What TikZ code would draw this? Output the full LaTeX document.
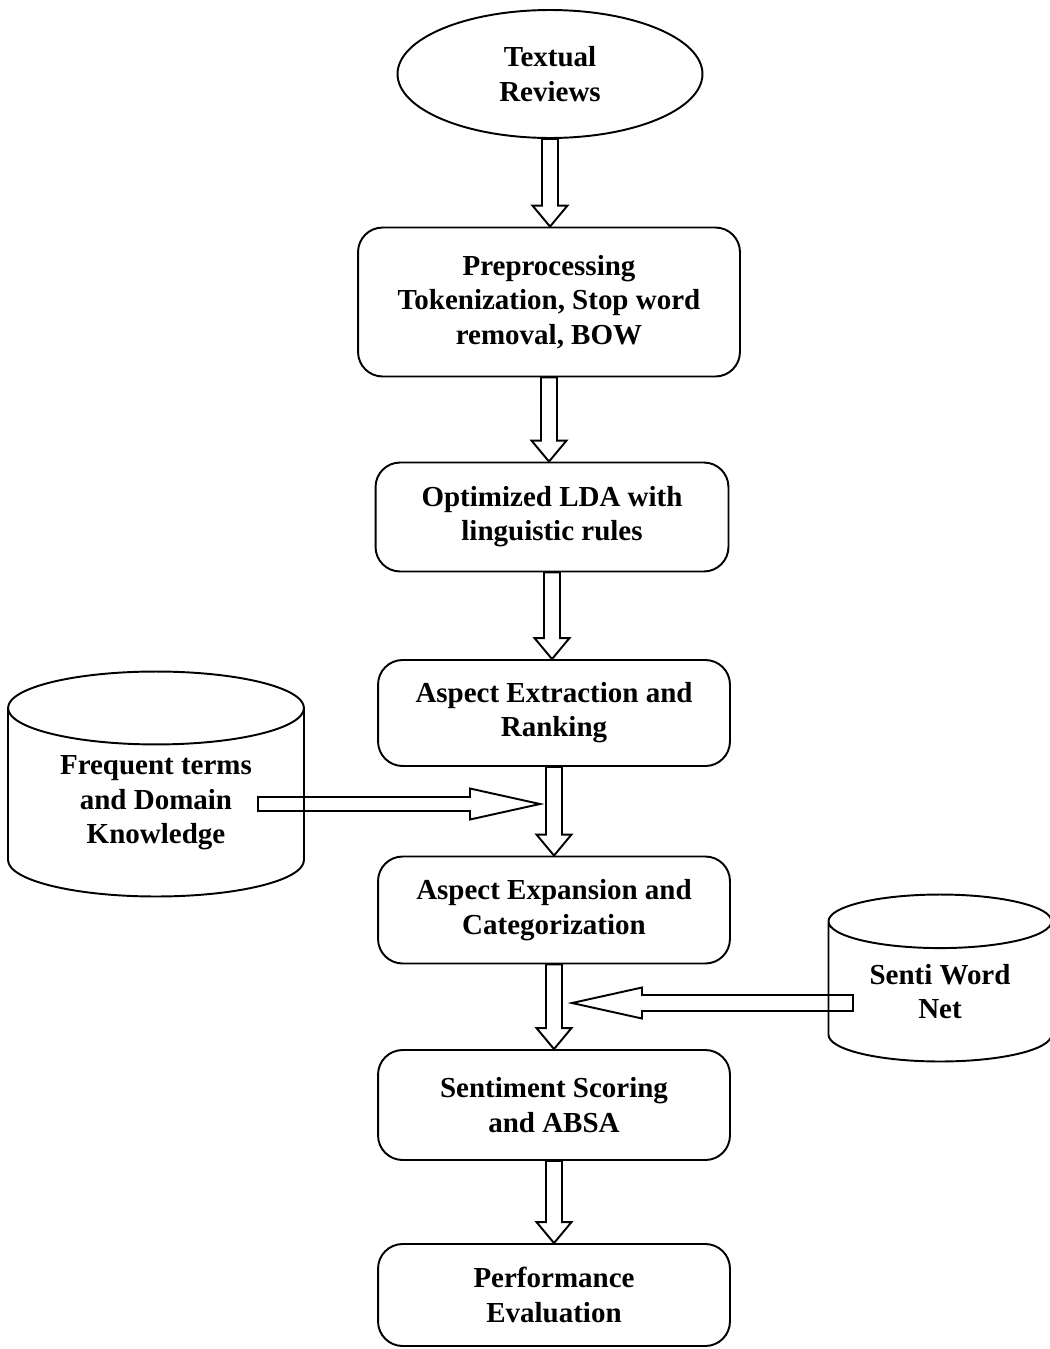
\documentclass[tikz,border=0pt]{standalone}
\usepackage{fontspec}
\setmainfont{Liberation Serif}
\usetikzlibrary{shapes.geometric,calc}

\tikzset{
  txt/.style={align=center,font=\bfseries\fontsize{16.5}{19.5}\selectfont},
  box/.style={txt,draw,line width=1.1pt,rounded corners=14pt,inner sep=0pt},
  store/.style={txt,draw,line width=1.1pt,cylinder,shape border rotate=90,aspect=0.38,anchor=shape center,inner sep=0pt},
  blockdown/.style={line width=1.1pt,to path={let \p1=(\tikztostart), \p2=(\tikztotarget) in
    (\x1-0.16cm,\y1) -- (\x1-0.16cm,\y2+0.42cm) -- (\x1-0.35cm,\y2+0.42cm) -- (\x1,\y2)
    -- (\x1+0.35cm,\y2+0.42cm) -- (\x1+0.16cm,\y2+0.42cm) -- (\x1+0.16cm,\y1) -- cycle}},
  blockright/.style={line width=1.1pt,to path={let \p1=(\tikztostart), \p2=(\tikztotarget) in
    (\x1,\y1+0.14cm) -- (\x2-1.4cm,\y1+0.14cm) -- (\x2-1.4cm,\y1+0.31cm) -- (\x2,\y1)
    -- (\x2-1.4cm,\y1-0.31cm) -- (\x2-1.4cm,\y1-0.14cm) -- (\x1,\y1-0.14cm) -- cycle}},
  blockleft/.style={line width=1.1pt,to path={let \p1=(\tikztostart), \p2=(\tikztotarget) in
    (\x1,\y1+0.16cm) -- (\x2+1.4cm,\y1+0.16cm) -- (\x2+1.4cm,\y1+0.31cm) -- (\x2,\y1)
    -- (\x2+1.4cm,\y1-0.31cm) -- (\x2+1.4cm,\y1-0.16cm) -- (\x1,\y1-0.16cm) -- cycle}}
}

\begin{document}
\begin{tikzpicture}[x=0.02cm,y=-0.02cm]
\useasboundingbox (0,0) rectangle (1049,1349);

% main flow
\node [txt,draw,ellipse,line width=1.1pt,inner sep=0pt,minimum width=6.1cm,minimum height=2.56cm] (rev) at (550,74) {Textual\\Reviews};
\node [box,minimum width=7.64cm,minimum height=2.98cm] (pre) at (549,302) {Preprocessing\\Tokenization, Stop word\\removal, BOW};
\node [box,minimum width=7.06cm,minimum height=2.18cm] (lda) at (552,517) {Optimized LDA with\\linguistic rules};
\node [box,minimum width=7.04cm,minimum height=2.12cm] (ext) at (554,713) {Aspect Extraction and\\Ranking};
\node [box,minimum width=7.04cm,minimum height=2.14cm] (expn) at (554,910) {Aspect Expansion and\\Categorization};
\node [box,minimum width=7.04cm,minimum height=2.2cm] (sent) at (554,1105) {Sentiment Scoring\\and ABSA};
\node [box,minimum width=7.04cm,minimum height=2.04cm] (perf) at (554,1295) {Performance\\Evaluation};

% knowledge sources
\node [store,minimum width=5.92cm,minimum height=4.5cm] (fdk) at (156,784) {Frequent terms\\and Domain\\Knowledge};
\node [store,minimum width=4.46cm,minimum height=3.34cm] (swn) at (940,978) {Senti Word\\Net};

\draw [blockdown] (rev.south) to (pre.north);
\draw [blockdown] (pre.south) to (lda.north);
\draw [blockdown] (lda.south) to (ext.north);
\draw [blockdown] (ext.south) to (expn.north);
\draw [blockdown] (expn.south) to (sent.north);
\draw [blockdown] (sent.south) to (perf.north);

\coordinate (fdkout) at (258,804);
\coordinate (jl) at (540,804);
\draw [blockright] (fdkout) to (jl);
\coordinate (swnout) at (853,1003);
\coordinate (jr) at (572,1003);
\draw [blockleft] (swnout) to (jr);
\end{tikzpicture}
\end{document}
